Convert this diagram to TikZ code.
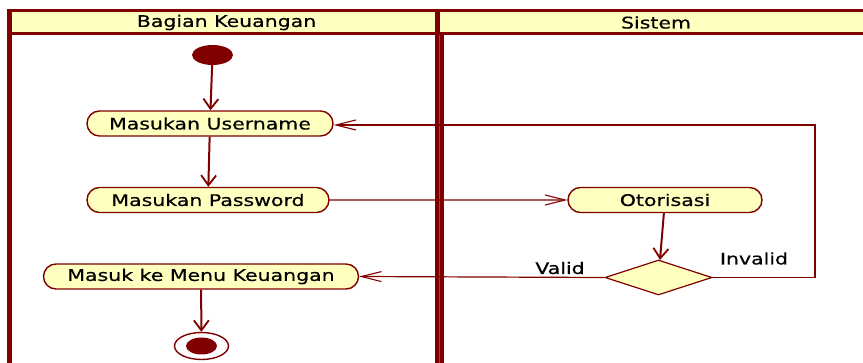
\documentclass[tikz,border=0pt]{standalone}
\usepackage{fontspec}
\setmainfont{DejaVu Sans}[FakeStretch=1.28,FakeBold=0.5]
\usetikzlibrary{arrows.meta,shapes.misc,shapes.geometric}
\definecolor{umlred}{RGB}{128,0,0}
\definecolor{umlfill}{RGB}{255,255,192}
\definecolor{gapred}{RGB}{176,60,60}
\begin{document}
\begin{tikzpicture}[x=1pt,y=-1pt,
  act/.style={rounded rectangle, draw=umlred, fill=umlfill, line width=1.4pt, minimum height=25pt, inner sep=0pt, font=\fontsize{16}{18}\selectfont},
  lbl/.style={font=\fontsize{16}{18}\selectfont, inner sep=0pt},
  hflow/.style={draw=umlred, line width=1.2pt, -{Straight Barb[length=20pt,width=10pt,line width=1.1pt]}},
  vflow/.style={draw=umlred, line width=2pt, -{Straight Barb[length=10pt,width=15pt,line width=1.8pt]}},
]
\useasboundingbox (0,0) rectangle (863,363);
% swimlanes
\fill[umlfill] (9,12) rectangle (863,33);
\fill[umlred] (7,9) rectangle (863,12);
\fill[umlred] (7,32.5) rectangle (863,35.2);
\fill[umlred] (7,9) rectangle (12,363);
\fill[umlred] (435,9) rectangle (440,35);
\fill[umlred] (435,35) rectangle (444,363);
\draw[gapred, line width=0.6pt] (439.7,35.2) -- (439.7,363);
\node[lbl] (lane1) at (226.5,22.5) {Bagian Keuangan};
\node[lbl] (lane2) at (656,22.5) {Sistem};
% nodes
\node[ellipse, fill=umlred, minimum width=41pt, minimum height=20pt, inner sep=0pt] (start) at (212.5,55) {};
\node[act, minimum width=246pt] (user) at (210,123.5) {Masukan Username};
\node[act, minimum width=242pt] (pass) at (208,200) {Masukan Password};
\node[act, minimum width=194pt] (otor) at (665,200) {Otorisasi};
\node[diamond, draw=umlred, fill=umlfill, line width=1.2pt, minimum width=107pt, minimum height=35pt, inner sep=0pt] (dec) at (658.5,277.5) {};
\node[act, minimum width=315pt] (menu) at (201,276.5) {Masuk ke Menu Keuangan};
\node[ellipse, draw=umlred, line width=1.4pt, fill=white, minimum width=54pt, minimum height=27pt, inner sep=0pt] (finalnode) at (201.5,346) {};
\node[ellipse, fill=umlred, minimum width=31pt, minimum height=17pt, inner sep=0pt] (finalin) at (finalnode) {};
\node[lbl] (valid) at (560,268) {Valid};
\node[lbl] (invalid) at (754,258.5) {Invalid};
\coordinate (turn) at (815,125);
% flows
\draw[vflow] (start) -- (user);
\draw[vflow] (user) -- (pass);
\draw[hflow] (pass) -- (otor);
\draw[vflow] (otor) -- (dec);
\draw[hflow] (dec.west) -- (menu.east);
\draw[hflow] (dec.east) -| (turn) -- (user.east |- turn);
\draw[vflow] (menu) -- (finalnode);
\end{tikzpicture}
\end{document}
